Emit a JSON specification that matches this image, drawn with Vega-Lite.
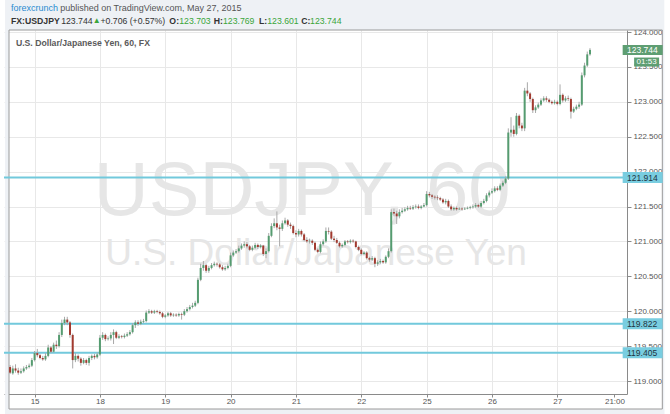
{
  "$schema": "https://vega.github.io/schema/vega-lite/v6.json",
  "autosize": {"type": "none"},
  "padding": {"left": 4, "top": 30, "right": 43, "bottom": 20},
  "width": 623,
  "height": 364,
  "background": "#ffffff",
  "config": {
    "view": {"stroke": null},
    "font": "Liberation Sans",
    "text": {"font": "Liberation Sans"}
  },
  "resolve": {"axis": {"x": "independent", "y": "independent"}},
  "datasets": {
    "candles": [
      {"t":-9,"o":119.20,"h":119.23,"l":119.10,"c":119.12},
      {"t":-8,"o":119.11,"h":119.22,"l":119.09,"c":119.18},
      {"t":-7,"o":119.18,"h":119.24,"l":119.12,"c":119.15},
      {"t":-6,"o":119.15,"h":119.19,"l":119.09,"c":119.12},
      {"t":-5,"o":119.12,"h":119.18,"l":119.10,"c":119.14},
      {"t":-4,"o":119.14,"h":119.21,"l":119.12,"c":119.18},
      {"t":-3,"o":119.18,"h":119.23,"l":119.16,"c":119.20},
      {"t":-2,"o":119.20,"h":119.25,"l":119.18,"c":119.22},
      {"t":-1,"o":119.22,"h":119.33,"l":119.20,"c":119.30},
      {"t":0,"o":119.30,"h":119.43,"l":119.28,"c":119.40},
      {"t":1,"o":119.40,"h":119.46,"l":119.34,"c":119.37},
      {"t":2,"o":119.37,"h":119.39,"l":119.31,"c":119.33},
      {"t":3,"o":119.33,"h":119.36,"l":119.29,"c":119.31},
      {"t":4,"o":119.31,"h":119.40,"l":119.29,"c":119.36},
      {"t":5,"o":119.36,"h":119.52,"l":119.34,"c":119.48},
      {"t":6,"o":119.48,"h":119.50,"l":119.40,"c":119.42},
      {"t":7,"o":119.42,"h":119.55,"l":119.41,"c":119.52},
      {"t":8,"o":119.52,"h":119.58,"l":119.46,"c":119.50},
      {"t":9,"o":119.50,"h":119.70,"l":119.48,"c":119.66},
      {"t":10,"o":119.66,"h":119.88,"l":119.63,"c":119.83},
      {"t":11,"o":119.83,"h":119.92,"l":119.80,"c":119.88},
      {"t":12,"o":119.88,"h":119.92,"l":119.80,"c":119.84},
      {"t":13,"o":119.84,"h":119.86,"l":119.62,"c":119.66},
      {"t":14,"o":119.66,"h":119.68,"l":119.18,"c":119.30},
      {"t":15,"o":119.30,"h":119.40,"l":119.27,"c":119.36},
      {"t":16,"o":119.36,"h":119.38,"l":119.28,"c":119.32},
      {"t":17,"o":119.32,"h":119.34,"l":119.22,"c":119.26},
      {"t":18,"o":119.26,"h":119.33,"l":119.24,"c":119.30},
      {"t":19,"o":119.30,"h":119.32,"l":119.23,"c":119.26},
      {"t":20,"o":119.26,"h":119.36,"l":119.22,"c":119.33},
      {"t":21,"o":119.33,"h":119.38,"l":119.30,"c":119.36},
      {"t":22,"o":119.36,"h":119.39,"l":119.31,"c":119.34},
      {"t":23,"o":119.34,"h":119.41,"l":119.32,"c":119.38},
      {"t":24,"o":119.38,"h":119.66,"l":119.36,"c":119.62},
      {"t":25,"o":119.62,"h":119.70,"l":119.59,"c":119.66},
      {"t":26,"o":119.66,"h":119.68,"l":119.57,"c":119.60},
      {"t":27,"o":119.60,"h":119.64,"l":119.58,"c":119.61},
      {"t":28,"o":119.61,"h":119.70,"l":119.58,"c":119.66},
      {"t":29,"o":119.66,"h":119.74,"l":119.53,"c":119.70},
      {"t":30,"o":119.70,"h":119.72,"l":119.60,"c":119.62},
      {"t":31,"o":119.62,"h":119.67,"l":119.60,"c":119.64},
      {"t":32,"o":119.64,"h":119.66,"l":119.61,"c":119.63},
      {"t":33,"o":119.63,"h":119.68,"l":119.61,"c":119.65},
      {"t":34,"o":119.65,"h":119.70,"l":119.63,"c":119.67},
      {"t":35,"o":119.67,"h":119.73,"l":119.65,"c":119.70},
      {"t":36,"o":119.70,"h":119.83,"l":119.68,"c":119.80},
      {"t":37,"o":119.80,"h":119.87,"l":119.76,"c":119.84},
      {"t":38,"o":119.84,"h":119.87,"l":119.79,"c":119.82},
      {"t":39,"o":119.82,"h":119.88,"l":119.80,"c":119.85},
      {"t":40,"o":119.85,"h":119.89,"l":119.83,"c":119.86},
      {"t":41,"o":119.86,"h":120.01,"l":119.84,"c":119.98},
      {"t":42,"o":119.98,"h":120.03,"l":119.96,"c":120.00},
      {"t":43,"o":120.00,"h":120.02,"l":119.96,"c":119.98},
      {"t":44,"o":119.98,"h":120.02,"l":119.96,"c":120.00},
      {"t":45,"o":120.00,"h":120.02,"l":119.97,"c":119.99},
      {"t":46,"o":119.99,"h":120.01,"l":119.95,"c":119.97},
      {"t":47,"o":119.97,"h":119.99,"l":119.90,"c":119.92},
      {"t":48,"o":119.92,"h":119.96,"l":119.90,"c":119.94},
      {"t":49,"o":119.94,"h":119.99,"l":119.92,"c":119.97},
      {"t":50,"o":119.97,"h":119.99,"l":119.92,"c":119.94},
      {"t":51,"o":119.94,"h":119.97,"l":119.92,"c":119.95},
      {"t":52,"o":119.95,"h":119.97,"l":119.92,"c":119.94},
      {"t":53,"o":119.94,"h":119.98,"l":119.92,"c":119.96},
      {"t":54,"o":119.96,"h":119.98,"l":119.88,"c":119.95},
      {"t":55,"o":119.95,"h":120.03,"l":119.93,"c":120.00},
      {"t":56,"o":120.00,"h":120.06,"l":119.98,"c":120.03},
      {"t":57,"o":120.03,"h":120.09,"l":120.01,"c":120.06},
      {"t":58,"o":120.06,"h":120.12,"l":120.04,"c":120.08},
      {"t":59,"o":120.08,"h":120.15,"l":120.06,"c":120.12},
      {"t":60,"o":120.12,"h":120.48,"l":120.10,"c":120.45},
      {"t":61,"o":120.45,"h":120.68,"l":120.43,"c":120.62},
      {"t":62,"o":120.62,"h":120.72,"l":120.58,"c":120.66},
      {"t":63,"o":120.66,"h":120.68,"l":120.55,"c":120.58},
      {"t":64,"o":120.58,"h":120.65,"l":120.55,"c":120.62},
      {"t":65,"o":120.62,"h":120.69,"l":120.60,"c":120.66},
      {"t":66,"o":120.66,"h":120.71,"l":120.64,"c":120.68},
      {"t":67,"o":120.68,"h":120.70,"l":120.64,"c":120.67},
      {"t":68,"o":120.67,"h":120.69,"l":120.61,"c":120.63},
      {"t":69,"o":120.63,"h":120.66,"l":120.58,"c":120.60},
      {"t":70,"o":120.60,"h":120.65,"l":120.58,"c":120.62},
      {"t":71,"o":120.62,"h":120.68,"l":120.60,"c":120.65},
      {"t":72,"o":120.65,"h":120.84,"l":120.63,"c":120.80},
      {"t":73,"o":120.80,"h":120.87,"l":120.78,"c":120.84},
      {"t":74,"o":120.84,"h":120.89,"l":120.82,"c":120.86},
      {"t":75,"o":120.86,"h":120.94,"l":120.84,"c":120.90},
      {"t":76,"o":120.90,"h":120.97,"l":120.88,"c":120.94},
      {"t":77,"o":120.94,"h":121.00,"l":120.91,"c":120.96},
      {"t":78,"o":120.96,"h":120.99,"l":120.90,"c":120.93},
      {"t":79,"o":120.93,"h":120.95,"l":120.86,"c":120.88},
      {"t":80,"o":120.88,"h":120.94,"l":120.86,"c":120.91},
      {"t":81,"o":120.91,"h":120.98,"l":120.89,"c":120.95},
      {"t":82,"o":120.95,"h":120.97,"l":120.89,"c":120.92},
      {"t":83,"o":120.92,"h":120.96,"l":120.90,"c":120.94},
      {"t":84,"o":120.94,"h":120.95,"l":120.79,"c":120.82},
      {"t":85,"o":120.82,"h":120.90,"l":120.76,"c":120.86},
      {"t":86,"o":120.86,"h":121.12,"l":120.84,"c":121.08},
      {"t":87,"o":121.08,"h":121.26,"l":121.06,"c":121.22},
      {"t":88,"o":121.22,"h":121.33,"l":121.19,"c":121.26},
      {"t":89,"o":121.26,"h":121.43,"l":121.16,"c":121.20},
      {"t":90,"o":121.20,"h":121.24,"l":120.93,"c":121.18},
      {"t":91,"o":121.18,"h":121.30,"l":121.15,"c":121.26},
      {"t":92,"o":121.26,"h":121.34,"l":121.24,"c":121.30},
      {"t":93,"o":121.30,"h":121.32,"l":121.21,"c":121.24},
      {"t":94,"o":121.24,"h":121.27,"l":121.18,"c":121.22},
      {"t":95,"o":121.22,"h":121.24,"l":121.10,"c":121.12},
      {"t":96,"o":121.12,"h":121.16,"l":121.06,"c":121.10},
      {"t":97,"o":121.10,"h":121.18,"l":121.07,"c":121.15},
      {"t":98,"o":121.15,"h":121.17,"l":121.07,"c":121.10},
      {"t":99,"o":121.10,"h":121.12,"l":121.00,"c":121.02},
      {"t":100,"o":121.02,"h":121.06,"l":120.98,"c":121.00},
      {"t":101,"o":121.00,"h":121.04,"l":120.97,"c":121.01},
      {"t":102,"o":121.01,"h":121.03,"l":120.95,"c":120.98},
      {"t":103,"o":120.98,"h":121.00,"l":120.86,"c":120.88},
      {"t":104,"o":120.88,"h":120.90,"l":120.83,"c":120.85},
      {"t":105,"o":120.85,"h":121.00,"l":120.83,"c":120.96},
      {"t":106,"o":120.96,"h":121.03,"l":120.94,"c":121.00},
      {"t":107,"o":121.00,"h":121.20,"l":120.98,"c":121.15},
      {"t":108,"o":121.15,"h":121.20,"l":121.10,"c":121.14},
      {"t":109,"o":121.14,"h":121.16,"l":121.02,"c":121.04},
      {"t":110,"o":121.04,"h":121.08,"l":120.99,"c":121.02},
      {"t":111,"o":121.02,"h":121.05,"l":120.96,"c":120.98},
      {"t":112,"o":120.98,"h":121.00,"l":120.91,"c":120.93},
      {"t":113,"o":120.93,"h":120.97,"l":120.91,"c":120.95},
      {"t":114,"o":120.95,"h":121.02,"l":120.93,"c":121.00},
      {"t":115,"o":121.00,"h":121.02,"l":120.97,"c":120.99},
      {"t":116,"o":120.99,"h":121.03,"l":120.97,"c":121.01},
      {"t":117,"o":121.01,"h":121.03,"l":120.98,"c":121.00},
      {"t":118,"o":121.00,"h":121.01,"l":120.90,"c":120.92},
      {"t":119,"o":120.92,"h":120.94,"l":120.86,"c":120.88},
      {"t":120,"o":120.88,"h":120.90,"l":120.80,"c":120.82},
      {"t":121,"o":120.82,"h":120.86,"l":120.80,"c":120.84},
      {"t":122,"o":120.84,"h":120.86,"l":120.74,"c":120.76},
      {"t":123,"o":120.76,"h":120.78,"l":120.71,"c":120.74},
      {"t":124,"o":120.74,"h":120.79,"l":120.72,"c":120.76},
      {"t":125,"o":120.76,"h":120.78,"l":120.63,"c":120.68},
      {"t":126,"o":120.68,"h":120.73,"l":120.65,"c":120.70},
      {"t":127,"o":120.70,"h":120.75,"l":120.68,"c":120.72},
      {"t":128,"o":120.72,"h":120.74,"l":120.68,"c":120.70},
      {"t":129,"o":120.70,"h":120.80,"l":120.68,"c":120.78},
      {"t":130,"o":120.78,"h":120.90,"l":120.76,"c":120.86},
      {"t":131,"o":120.86,"h":121.46,"l":120.84,"c":121.42},
      {"t":132,"o":121.42,"h":121.47,"l":121.36,"c":121.40},
      {"t":133,"o":121.40,"h":121.44,"l":121.25,"c":121.36},
      {"t":134,"o":121.36,"h":121.46,"l":121.33,"c":121.42},
      {"t":135,"o":121.42,"h":121.48,"l":121.40,"c":121.44},
      {"t":136,"o":121.44,"h":121.49,"l":121.42,"c":121.46},
      {"t":137,"o":121.46,"h":121.51,"l":121.44,"c":121.48},
      {"t":138,"o":121.48,"h":121.51,"l":121.45,"c":121.47},
      {"t":139,"o":121.47,"h":121.52,"l":121.45,"c":121.49},
      {"t":140,"o":121.49,"h":121.53,"l":121.47,"c":121.50},
      {"t":141,"o":121.50,"h":121.53,"l":121.46,"c":121.48},
      {"t":142,"o":121.48,"h":121.52,"l":121.46,"c":121.50},
      {"t":143,"o":121.50,"h":121.55,"l":121.49,"c":121.52},
      {"t":144,"o":121.52,"h":121.72,"l":121.50,"c":121.68},
      {"t":145,"o":121.68,"h":121.71,"l":121.63,"c":121.66},
      {"t":146,"o":121.66,"h":121.68,"l":121.61,"c":121.64},
      {"t":147,"o":121.64,"h":121.66,"l":121.60,"c":121.63},
      {"t":148,"o":121.63,"h":121.66,"l":121.59,"c":121.62},
      {"t":149,"o":121.62,"h":121.64,"l":121.58,"c":121.60},
      {"t":150,"o":121.60,"h":121.62,"l":121.54,"c":121.56},
      {"t":151,"o":121.56,"h":121.61,"l":121.53,"c":121.58},
      {"t":152,"o":121.58,"h":121.60,"l":121.48,"c":121.50},
      {"t":153,"o":121.50,"h":121.53,"l":121.44,"c":121.46},
      {"t":154,"o":121.46,"h":121.50,"l":121.44,"c":121.48},
      {"t":155,"o":121.48,"h":121.50,"l":121.44,"c":121.46},
      {"t":156,"o":121.46,"h":121.49,"l":121.45,"c":121.47},
      {"t":157,"o":121.47,"h":121.49,"l":121.44,"c":121.46},
      {"t":158,"o":121.46,"h":121.49,"l":121.45,"c":121.47},
      {"t":159,"o":121.47,"h":121.50,"l":121.46,"c":121.48},
      {"t":160,"o":121.48,"h":121.51,"l":121.46,"c":121.49},
      {"t":161,"o":121.49,"h":121.53,"l":121.47,"c":121.50},
      {"t":162,"o":121.50,"h":121.55,"l":121.48,"c":121.52},
      {"t":163,"o":121.52,"h":121.54,"l":121.48,"c":121.50},
      {"t":164,"o":121.50,"h":121.58,"l":121.48,"c":121.55},
      {"t":165,"o":121.55,"h":121.61,"l":121.53,"c":121.58},
      {"t":166,"o":121.58,"h":121.69,"l":121.56,"c":121.66},
      {"t":167,"o":121.66,"h":121.73,"l":121.63,"c":121.70},
      {"t":168,"o":121.70,"h":121.76,"l":121.68,"c":121.72},
      {"t":169,"o":121.72,"h":121.79,"l":121.70,"c":121.76},
      {"t":170,"o":121.76,"h":121.79,"l":121.72,"c":121.74},
      {"t":171,"o":121.74,"h":121.83,"l":121.72,"c":121.80},
      {"t":172,"o":121.80,"h":121.87,"l":121.78,"c":121.84},
      {"t":173,"o":121.84,"h":121.93,"l":121.82,"c":121.90},
      {"t":174,"o":121.90,"h":122.62,"l":121.88,"c":122.56},
      {"t":175,"o":122.56,"h":122.78,"l":122.50,"c":122.60},
      {"t":176,"o":122.60,"h":122.66,"l":122.50,"c":122.54},
      {"t":177,"o":122.54,"h":122.84,"l":122.52,"c":122.80},
      {"t":178,"o":122.80,"h":122.82,"l":122.62,"c":122.66},
      {"t":179,"o":122.66,"h":122.70,"l":122.58,"c":122.62},
      {"t":180,"o":122.62,"h":123.20,"l":122.58,"c":123.16},
      {"t":181,"o":123.16,"h":123.28,"l":123.08,"c":123.12},
      {"t":182,"o":123.12,"h":123.14,"l":123.00,"c":123.04},
      {"t":183,"o":123.04,"h":123.06,"l":122.84,"c":122.88},
      {"t":184,"o":122.88,"h":122.95,"l":122.84,"c":122.92},
      {"t":185,"o":122.92,"h":122.99,"l":122.90,"c":122.96},
      {"t":186,"o":122.96,"h":123.05,"l":122.94,"c":123.02},
      {"t":187,"o":123.02,"h":123.08,"l":123.00,"c":123.05},
      {"t":188,"o":123.05,"h":123.08,"l":123.00,"c":123.03},
      {"t":189,"o":123.03,"h":123.05,"l":122.98,"c":123.00},
      {"t":190,"o":123.00,"h":123.02,"l":122.96,"c":122.98},
      {"t":191,"o":122.98,"h":123.03,"l":122.96,"c":123.00},
      {"t":192,"o":123.00,"h":123.02,"l":122.95,"c":122.97},
      {"t":193,"o":122.97,"h":123.25,"l":122.95,"c":123.10},
      {"t":194,"o":123.10,"h":123.12,"l":122.99,"c":123.02},
      {"t":195,"o":123.02,"h":123.08,"l":123.00,"c":123.05},
      {"t":196,"o":123.05,"h":123.09,"l":123.01,"c":123.04},
      {"t":197,"o":123.04,"h":123.06,"l":122.76,"c":122.86},
      {"t":198,"o":122.86,"h":122.93,"l":122.84,"c":122.90},
      {"t":199,"o":122.90,"h":122.96,"l":122.88,"c":122.93},
      {"t":200,"o":122.93,"h":123.00,"l":122.90,"c":122.96},
      {"t":201,"o":122.96,"h":123.42,"l":122.94,"c":123.38},
      {"t":202,"o":123.38,"h":123.56,"l":123.35,"c":123.52},
      {"t":203,"o":123.52,"h":123.72,"l":123.50,"c":123.68},
      {"t":204,"o":123.68,"h":123.769,"l":123.66,"c":123.744}
    ],
    "levels": [{"v": 121.914}, {"v": 119.822}, {"v": 119.405}],
    "one": [{}]
  },
  "layer": [
    {
      "data": {"name": "candles"},
      "mark": {"type": "rule", "color": "#a9a9a9", "strokeWidth": 1, "opacity": 0},
      "encoding": {
        "x": {
          "field": "t", "type": "quantitative",
          "scale": {"domain": [-9.396, 215.76], "nice": false, "zero": false},
          "axis": {
            "title": null, "orient": "bottom",
            "values": [0, 24, 48, 72, 96, 120, 144, 168, 192, 213],
            "labelExpr": "datum.value == 213 ? '21:00' : ['15','18','19','20','21','22','25','26','27'][round(datum.value/24)]",
            "labelFontSize": 8, "labelColor": "#555555", "labelPadding": 0,
            "tickSize": 3, "tickColor": "#8a8a8a", "domainColor": "#8a8a8a",
            "grid": true,
            "gridColor": {"condition": {"test": "datum.value == 213", "value": "rgba(0,0,0,0)"}, "value": "#e8e8e8"},
            "labelFlush": false, "labelOverlap": false
          }
        },
        "y": {
          "field": "l", "type": "quantitative",
          "scale": {"domain": [118.814, 124.029], "nice": false, "zero": false},
          "axis": {
            "title": null, "orient": "right",
            "values": [119, 119.5, 120, 120.5, 121, 121.5, 122, 122.5, 123, 123.5, 124],
            "format": ".3f", "labelAlign": "left", "labelFontSize": 8, "labelColor": "#555555",
            "labelPadding": 2, "tickSize": 4, "tickColor": "#8a8a8a", "domainColor": "#8a8a8a",
            "grid": true, "gridColor": "#e8e8e8", "labelFlush": false, "labelOverlap": false
          }
        },
        "y2": {"field": "h"}
      }
    },
    {
      "data": {"name": "one"},
      "mark": {"type": "rect", "color": "#eef1f5"},
      "encoding": {
        "x": {"datum": -10.842, "type": "quantitative", "axis": null}, "x2": {"datum": 231.3},
        "y": {"datum": 124.029, "type": "quantitative", "axis": null}, "y2": {"datum": 124.459}
      }
    },
    {
      "data": {"name": "one"},
      "mark": {"type": "rect", "color": "#eef1f5"},
      "encoding": {
        "x": {"datum": -10.842, "type": "quantitative", "axis": null}, "x2": {"datum": -9.396},
        "y": {"datum": 118.527, "type": "quantitative", "axis": null}, "y2": {"datum": 124.029}
      }
    },
    {
      "data": {"name": "one"},
      "mark": {"type": "rect", "color": "#eef1f5"},
      "encoding": {
        "x": {"datum": 230.57, "type": "quantitative", "axis": null}, "x2": {"datum": 231.3},
        "y": {"datum": 118.527, "type": "quantitative", "axis": null}, "y2": {"datum": 124.029}
      }
    },
    {
      "data": {"name": "one"},
      "mark": {"type": "rect", "color": "#eef1f5"},
      "encoding": {
        "x": {"datum": -10.842, "type": "quantitative", "axis": null}, "x2": {"datum": 231.3},
        "y": {"datum": 118.527, "type": "quantitative", "axis": null}, "y2": {"datum": 118.599}
      }
    },
    {
      "data": {"name": "one"},
      "mark": {"type": "rect", "fillOpacity": 0, "stroke": "#9a9a9a", "strokeWidth": 1},
      "encoding": {
        "x": {"datum": -9.396, "type": "quantitative", "axis": null}, "x2": {"datum": 230.57},
        "y": {"datum": 118.599, "type": "quantitative", "axis": null}, "y2": {"datum": 124.029}
      }
    },
    {
      "data": {"name": "one"},
      "mark": {"type": "text", "text": "USDJPY, 60", "fontSize": 76, "color": "#e6e6e6", "align": "center", "baseline": "middle"},
      "encoding": {
        "x": {"datum": 98.3, "type": "quantitative", "axis": null},
        "y": {"datum": 121.71, "type": "quantitative", "axis": null}
      }
    },
    {
      "data": {"name": "one"},
      "mark": {"type": "text", "text": "U.S. Dollar/Japanese Yen", "fontSize": 37, "color": "#e6e6e6", "align": "center", "baseline": "middle"},
      "encoding": {
        "x": {"datum": 103.4, "type": "quantitative", "axis": null},
        "y": {"datum": 120.82, "type": "quantitative", "axis": null}
      }
    },
    {
      "data": {"name": "levels"},
      "mark": {"type": "rule", "color": "#72c9dc", "strokeWidth": 2},
      "encoding": {
        "y": {"field": "v", "type": "quantitative", "axis": null}
      }
    },
    {
      "data": {"name": "candles"},
      "mark": {"type": "rule", "color": "#a9a9a9", "strokeWidth": 1},
      "encoding": {
        "x": {"field": "t", "type": "quantitative", "axis": null},
        "y": {"field": "l", "type": "quantitative", "axis": null},
        "y2": {"field": "h"}
      }
    },
    {
      "data": {"name": "candles"},
      "mark": {"type": "bar", "size": 2},
      "encoding": {
        "x": {"field": "t", "type": "quantitative", "axis": null},
        "y": {"field": "o", "type": "quantitative", "axis": null},
        "y2": {"field": "c"},
        "color": {
          "condition": {"test": "datum.c >= datum.o", "value": "#559c70"},
          "value": "#a23a2f"
        }
      }
    },
    {
      "data": {"name": "levels"},
      "mark": {"type": "tick", "orient": "horizontal", "size": 40, "thickness": 11, "color": "#79cde0", "opacity": 1},
      "encoding": {
        "x": {"datum": 223.35, "type": "quantitative", "axis": null},
        "y": {"field": "v", "type": "quantitative", "axis": null}
      }
    },
    {
      "data": {"name": "levels"},
      "mark": {"type": "text", "align": "left", "baseline": "middle", "fontSize": 8.5, "color": "#1f3440"},
      "encoding": {
        "x": {"datum": 217.6, "type": "quantitative", "axis": null},
        "y": {"field": "v", "type": "quantitative", "axis": null},
        "text": {"field": "v", "type": "quantitative", "format": ".3f"}
      }
    },
    {
      "data": {"name": "one"},
      "mark": {"type": "tick", "orient": "horizontal", "size": 40, "thickness": 10, "color": "#5e9e72", "opacity": 1},
      "encoding": {
        "x": {"datum": 223.35, "type": "quantitative", "axis": null},
        "y": {"datum": 123.744, "type": "quantitative", "axis": null}
      }
    },
    {
      "data": {"name": "one"},
      "mark": {"type": "text", "text": "123.744", "align": "left", "baseline": "middle", "fontSize": 8.5, "color": "#ffffff"},
      "encoding": {
        "x": {"datum": 217.6, "type": "quantitative", "axis": null},
        "y": {"datum": 123.744, "type": "quantitative", "axis": null}
      }
    },
    {
      "data": {"name": "one"},
      "mark": {"type": "tick", "orient": "horizontal", "size": 25, "thickness": 9, "color": "#5e9e72", "opacity": 1},
      "encoding": {
        "x": {"datum": 224.8, "type": "quantitative", "axis": null},
        "y": {"datum": 123.57, "type": "quantitative", "axis": null}
      }
    },
    {
      "data": {"name": "one"},
      "mark": {"type": "text", "text": "01:53", "align": "center", "baseline": "middle", "fontSize": 8, "color": "#ffffff"},
      "encoding": {
        "x": {"datum": 224.8, "type": "quantitative", "axis": null},
        "y": {"datum": 123.57, "type": "quantitative", "axis": null}
      }
    },
    {
      "data": {"name": "one"},
      "mark": {"type": "text", "text": "forexcrunch", "align": "left", "baseline": "middle", "fontSize": 9, "color": "#2a8bd0"},
      "encoding": {"x": {"datum": -8.674, "type": "quantitative", "axis": null}, "y": {"datum": 124.351, "type": "quantitative", "axis": null}}
    },
    {
      "data": {"name": "one"},
      "mark": {"type": "text", "text": "published on TradingView.com, May 27, 2015", "align": "left", "baseline": "middle", "fontSize": 9, "color": "#555555"},
      "encoding": {"x": {"datum": 9.397, "type": "quantitative", "axis": null}, "y": {"datum": 124.351, "type": "quantitative", "axis": null}}
    },
    {
      "data": {"name": "one"},
      "mark": {"type": "text", "text": "FX:USDJPY", "align": "left", "baseline": "middle", "fontSize": 8.7, "fontWeight": "bold", "color": "#333333"},
      "encoding": {"x": {"datum": -8.674, "type": "quantitative", "axis": null}, "y": {"datum": 124.165, "type": "quantitative", "axis": null}}
    },
    {
      "data": {"name": "one"},
      "mark": {"type": "text", "text": "123.744", "align": "left", "baseline": "middle", "fontSize": 8.7, "color": "#333333"},
      "encoding": {"x": {"datum": 9.758, "type": "quantitative", "axis": null}, "y": {"datum": 124.165, "type": "quantitative", "axis": null}}
    },
    {
      "data": {"name": "one"},
      "mark": {"type": "text", "text": "▲", "align": "left", "baseline": "middle", "fontSize": 8, "color": "#3aa53a"},
      "encoding": {"x": {"datum": 21.32, "type": "quantitative", "axis": null}, "y": {"datum": 124.165, "type": "quantitative", "axis": null}}
    },
    {
      "data": {"name": "one"},
      "mark": {"type": "text", "text": "+0.706 (+0.57%)", "align": "left", "baseline": "middle", "fontSize": 8.7, "color": "#333333"},
      "encoding": {"x": {"datum": 24.21, "type": "quantitative", "axis": null}, "y": {"datum": 124.165, "type": "quantitative", "axis": null}}
    },
    {
      "data": {"name": "one"},
      "mark": {"type": "text", "text": "O:", "align": "left", "baseline": "middle", "fontSize": 8.7, "fontWeight": "bold", "color": "#333333"},
      "encoding": {"x": {"datum": 49.51, "type": "quantitative", "axis": null}, "y": {"datum": 124.165, "type": "quantitative", "axis": null}}
    },
    {
      "data": {"name": "one"},
      "mark": {"type": "text", "text": "123.703", "align": "left", "baseline": "middle", "fontSize": 8.7, "color": "#3aa53a"},
      "encoding": {"x": {"datum": 53.13, "type": "quantitative", "axis": null}, "y": {"datum": 124.165, "type": "quantitative", "axis": null}}
    },
    {
      "data": {"name": "one"},
      "mark": {"type": "text", "text": "H:", "align": "left", "baseline": "middle", "fontSize": 8.7, "fontWeight": "bold", "color": "#333333"},
      "encoding": {"x": {"datum": 65.78, "type": "quantitative", "axis": null}, "y": {"datum": 124.165, "type": "quantitative", "axis": null}}
    },
    {
      "data": {"name": "one"},
      "mark": {"type": "text", "text": "123.769", "align": "left", "baseline": "middle", "fontSize": 8.7, "color": "#3aa53a"},
      "encoding": {"x": {"datum": 69.21, "type": "quantitative", "axis": null}, "y": {"datum": 124.165, "type": "quantitative", "axis": null}}
    },
    {
      "data": {"name": "one"},
      "mark": {"type": "text", "text": "L:", "align": "left", "baseline": "middle", "fontSize": 8.7, "fontWeight": "bold", "color": "#333333"},
      "encoding": {"x": {"datum": 82.4, "type": "quantitative", "axis": null}, "y": {"datum": 124.165, "type": "quantitative", "axis": null}}
    },
    {
      "data": {"name": "one"},
      "mark": {"type": "text", "text": "123.601", "align": "left", "baseline": "middle", "fontSize": 8.7, "color": "#3aa53a"},
      "encoding": {"x": {"datum": 85.47, "type": "quantitative", "axis": null}, "y": {"datum": 124.165, "type": "quantitative", "axis": null}}
    },
    {
      "data": {"name": "one"},
      "mark": {"type": "text", "text": "C:", "align": "left", "baseline": "middle", "fontSize": 8.7, "fontWeight": "bold", "color": "#333333"},
      "encoding": {"x": {"datum": 97.94, "type": "quantitative", "axis": null}, "y": {"datum": 124.165, "type": "quantitative", "axis": null}}
    },
    {
      "data": {"name": "one"},
      "mark": {"type": "text", "text": "123.744", "align": "left", "baseline": "middle", "fontSize": 8.7, "color": "#3aa53a"},
      "encoding": {"x": {"datum": 101.19, "type": "quantitative", "axis": null}, "y": {"datum": 124.165, "type": "quantitative", "axis": null}}
    },
    {
      "data": {"name": "one"},
      "mark": {"type": "text", "text": "U.S. Dollar/Japanese Yen, 60, FX", "align": "left", "baseline": "middle", "fontSize": 8.7, "fontWeight": "bold", "color": "#5a5a5a"},
      "encoding": {"x": {"datum": -6.867, "type": "quantitative", "axis": null}, "y": {"datum": 123.842, "type": "quantitative", "axis": null}}
    }
  ]
}
